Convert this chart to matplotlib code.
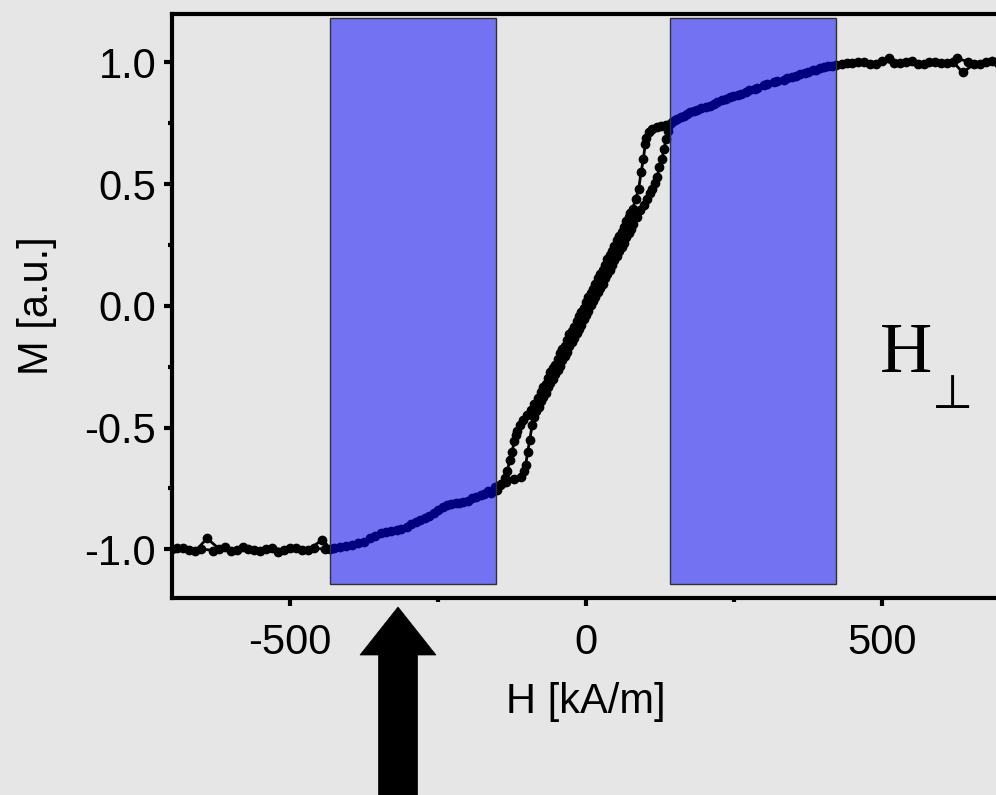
import matplotlib
matplotlib.use("Agg")
import matplotlib.pyplot as plt
from matplotlib.patches import Rectangle, FancyArrow
from matplotlib.ticker import MultipleLocator

# ---------------- data ----------------
# ascending branch (field swept from -H to +H)
H_up = [-700, -680, -660, -640, -620, -600, -580, -560, -540, -520, -500, -480, -460, -440,
        -425, -405, -385, -365, -347, -330, -313, -295, -280, -265, -250, -235, -220, -207,
        -192, -178, -165, -153,
        -145, -135, -122, -110,
        -105, -102, -98.5, -95, -91, -88,
        -84, -80, -76, -72, -68, -64, -60, -56, -52, -48, -44, -40, -36, -32, -28, -24,
        -20, -16, -12, -8, -4, 0, 4, 8, 12, 16, 20, 24, 28, 32, 36, 40, 44, 48, 52, 56,
        60, 64, 68, 72, 76,
        80, 86, 92, 98, 103, 108, 111, 116, 120, 124, 128, 132, 135, 139, 142,
        150, 160, 170, 182, 195, 210, 222, 236, 249, 262, 276, 289, 305, 322, 340, 355,
        370, 383, 395, 408, 422,
        440, 460, 480, 500, 520, 540, 560, 580, 600, 620, 636, 655, 675, 695]
M_up = [-1.000, -0.995, -1.008, -0.955, -0.997, -1.006, -0.992, -1.004, -0.998, -1.010, -0.993, -1.002, -0.996, -0.999,
        -0.995, -0.985, -0.975, -0.955, -0.934, -0.925, -0.918, -0.898, -0.880, -0.865, -0.840, -0.818, -0.810, -0.805,
        -0.790, -0.777, -0.760, -0.745,
        -0.735, -0.722, -0.712, -0.703,
        -0.680, -0.655, -0.600, -0.550, -0.490, -0.455,
        -0.431, -0.414, -0.390, -0.374, -0.358, -0.335, -0.318, -0.302, -0.279, -0.262, -0.245, -0.223,
        -0.206, -0.189, -0.166, -0.150, -0.133, -0.110, -0.094, -0.077, -0.054, -0.037, -0.021, 0.002,
        0.019, 0.035, 0.058, 0.075, 0.092, 0.114, 0.131, 0.148, 0.170, 0.187, 0.204, 0.227, 0.243,
        0.260, 0.283, 0.300, 0.316,
        0.335, 0.365, 0.392, 0.415, 0.440, 0.465, 0.481, 0.505, 0.528, 0.570, 0.604, 0.645, 0.686, 0.720, 0.747,
        0.762, 0.776, 0.788, 0.800, 0.812, 0.822, 0.838, 0.852, 0.863, 0.870, 0.886, 0.897, 0.912, 0.925, 0.935, 0.946,
        0.958, 0.968, 0.977, 0.984, 0.991,
        0.996, 1.002, 0.995, 1.006, 0.998, 1.004, 0.992, 1.001, 0.997, 1.003, 0.959, 0.992, 1.000, 0.996]

# descending branch (field swept from +H to -H)
H_down = [705, 685, 665, 645, 626, 610, 590, 570, 550, 530, 512, 490, 470, 450, 432,
          415, 402, 388, 375, 362, 348, 335, 318, 300, 285, 270, 256, 243, 230, 216, 203,
          188, 176, 165, 154, 145,
          135, 127, 120, 112, 106,
          102, 100, 97, 93, 89, 84, 79, 75,
          72, 68, 64, 60, 56, 52, 48, 44, 40, 36, 32, 28, 24, 20, 16, 12, 8, 4, 0,
          -4, -8, -12, -16, -20, -24, -28, -32, -36, -40, -44, -48, -52, -56, -60, -64,
          -68, -72, -76,
          -81, -87, -93, -100, -106, -111, -116, -119, -121, -125, -129, -133, -137,
          -143, -150,
          -160, -172, -185, -200, -214, -228, -242, -257, -272, -287, -303, -320, -338,
          -356, -375, -395, -415, -432,
          -445, -470, -490, -510, -530, -550, -570, -590, -610, -630, -650, -670, -690, -705]
M_down = [0.998, 1.005, 0.994, 1.003, 1.018, 0.996, 1.002, 0.993, 1.006, 0.999, 1.020, 0.995, 1.004, 0.997, 0.993,
          0.987, 0.980, 0.971, 0.962, 0.952, 0.940, 0.930, 0.920, 0.906, 0.893, 0.880, 0.868, 0.858, 0.846, 0.830, 0.818,
          0.806, 0.795, 0.782, 0.768, 0.755,
          0.745, 0.738, 0.733, 0.725, 0.713,
          0.690, 0.665, 0.604, 0.549, 0.481, 0.440, 0.400, 0.380,
          0.364, 0.348, 0.325, 0.302, 0.286, 0.271, 0.247, 0.224, 0.209, 0.193, 0.170, 0.146, 0.131, 0.116,
          0.092, 0.069, 0.053, 0.038, 0.015,
          -0.009, -0.024, -0.040, -0.063, -0.086, -0.102, -0.117, -0.141, -0.164, -0.179, -0.195, -0.218,
          -0.242, -0.257, -0.272, -0.296, -0.319, -0.335, -0.354,
          -0.378, -0.405, -0.428, -0.448, -0.470, -0.490, -0.512, -0.530, -0.556, -0.600, -0.634, -0.680, -0.705,
          -0.730, -0.757,
          -0.768, -0.774, -0.785, -0.800, -0.808, -0.815, -0.828, -0.852, -0.872, -0.886, -0.910, -0.921, -0.930,
          -0.945, -0.968, -0.982, -0.992, -0.997,
          -0.960, -1.004, -0.996, -1.003, -0.994, -1.006, -0.999, -1.002, -0.992, -1.005, -0.998, -1.003, -0.993, -1.000]

# highlighted field ranges [H_start, H_end] and their vertical extent
bands_H = [(-433, -152), (142, 422)]
bands_M = (-1.142, 1.182)

x_ticks = [-500, 0, 500]
y_ticks = [-1.0, -0.5, 0.0, 0.5, 1.0]
x_label = "H [kA/m]"
y_label = "M [a.u.]"

# ---------------- figure ----------------
bg = "#e6e6e6"
fig = plt.figure(figsize=(9.96, 7.95), dpi=100, facecolor=bg)
ax = fig.add_axes([0.17219, 0.2478, 1.00452 - 0.17219, 0.98264 - 0.2478])
ax.set_facecolor(bg)

for Hs, Ms in ((H_up, M_up), (H_down, M_down)):
    ax.plot(Hs, Ms, "-o", color="black", lw=2.0, ms=6.0, mec="black", mfc="black", zorder=2,
            clip_on=True)

for h0, h1 in bands_H:
    ax.add_patch(Rectangle((h0, bands_M[0]), h1 - h0, bands_M[1] - bands_M[0],
                           facecolor=(0, 0, 1, 0.5), edgecolor="#303030", lw=1.0, zorder=3))

ax.set_xlim(-700, 700)
ax.set_ylim(-1.2, 1.2)
ax.set_xticks(x_ticks)
ax.set_xticklabels([f"{v:d}" for v in x_ticks])
ax.set_yticks(y_ticks)
ax.set_yticklabels([f"{v:.1f}" for v in y_ticks])
ax.xaxis.set_minor_locator(MultipleLocator(250))
ax.yaxis.set_minor_locator(MultipleLocator(0.25))

for s in ("left", "bottom", "top", "right"):
    ax.spines[s].set_linewidth(3.0)
ax.tick_params(which="major", direction="out", length=6, width=3, labelsize=30,
               top=False, right=False)
ax.tick_params(which="minor", direction="out", length=3, width=3, top=False, right=False)
ax.tick_params(axis="x", which="major", pad=12)
ax.tick_params(axis="y", which="major", pad=5)
for lab in ax.get_xticklabels() + ax.get_yticklabels():
    lab.set_family(["Liberation Sans", "DejaVu Sans"])

ax.set_xlabel(x_label, fontsize=30, family=["Liberation Sans", "DejaVu Sans"], labelpad=14)
ax.set_ylabel(y_label, fontsize=30, family=["Liberation Sans", "DejaVu Sans"], labelpad=20)

# H-perp annotation
fig.text(906 / 996, 1 - 354 / 795, "H", fontsize=52, family=["Liberation Serif", "DejaVu Serif"],
         ha="center", va="center", fontstretch="condensed")
fig.text(953 / 996, 1 - 396 / 795, "\u22a5", fontsize=34, family=["DejaVu Sans"],
         ha="center", va="center")

# arrow below the plot
tip_y = 1 - 607 / 795
fig.add_artist(FancyArrow(398 / 996, -0.02, 0, tip_y + 0.02, width=39 / 996,
                          head_width=76 / 996, head_length=48 / 795,
                          length_includes_head=True, transform=fig.transFigure,
                          facecolor="black", edgecolor="black", lw=0.5))

fig.savefig("out.png", dpi=100, facecolor=bg)
